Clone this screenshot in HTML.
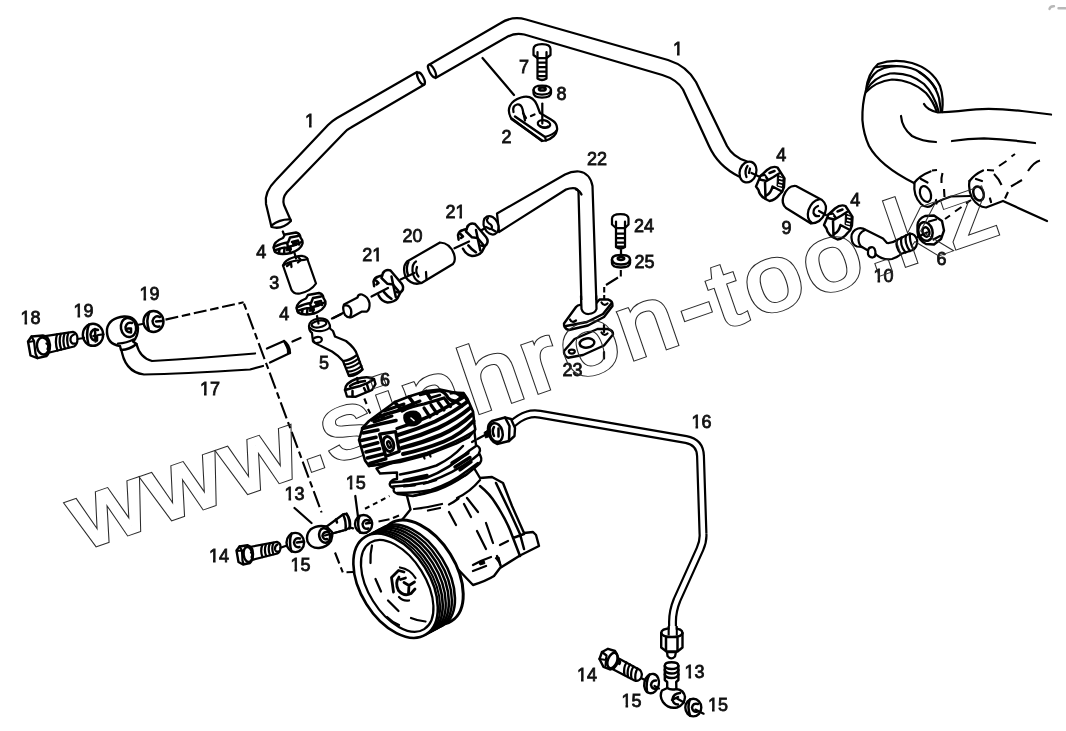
<!DOCTYPE html>
<html lang="en"><head><meta charset="utf-8"><title>Compressor piping diagram</title>
<style>
html,body{margin:0;padding:0;background:#fff;}
body{width:1066px;height:731px;overflow:hidden;font-family:"Liberation Sans",sans-serif;}
svg{display:block;}
.l{fill:none;stroke:#000;stroke-width:2.25;stroke-linecap:round;stroke-linejoin:round;}
.t{fill:none;stroke:#000;stroke-width:1.2;stroke-linecap:round;stroke-linejoin:round;}
.h{fill:none;stroke:#000;stroke-width:2.5;stroke-linecap:round;stroke-linejoin:round;}
.f{fill:#fff;stroke:#000;stroke-width:2.25;stroke-linecap:round;stroke-linejoin:round;}
.k{fill:#000;stroke:#000;stroke-width:1;stroke-linejoin:round;}
.d{fill:none;stroke:#000;stroke-width:1.6;stroke-linecap:butt;}
.n{font-family:"Liberation Sans",sans-serif;font-size:18px;fill:#111;stroke:#111;stroke-width:0.8;}
.w{font-family:"Liberation Sans",sans-serif;font-size:100px;fill:none;stroke:#3a3a3a;stroke-width:1;vector-effect:non-scaling-stroke;}
</style></head><body>
<svg width="1066" height="731" viewBox="0 0 1066 731">
<rect width="1066" height="731" fill="#fff"/>
<defs>
<g id="clampA">
<path class="f" d="M-10,-8 L-3.5,-14 Q2,-18.5 7,-16.5 L14,-5.5 L13.5,3 L11.5,8 L9,10.5 Q5,16 -1,17 Q-11,13 -12,6 L-14.5,2.5 Z" style="stroke-width:2.4"/>
<path class="h" d="M-10.5,-4.5 L-4,-3 L3,-7 L8.5,-10.5 M-5.5,-2 L-5,14.5 M2,2.5 Q0.5,9 -4,11.5 M2,2.5 L11.5,7.5 M-10,-8 L-6,-9 L-3,-5 M-1,-11 L4,-13"/>
<path class="k" d="M7,-9 L13.5,-5.5 L13,4 L6.5,2 Z"/>
<path d="M8.5,-6 L12,-5 M8.5,-2.5 L12,-1.5 M7.5,0.8 L11.5,1.8" style="fill:none;stroke:#fff;stroke-width:1.5"/>
<path d="M-8.5,-6.5 L-6,-7" style="fill:none;stroke:#fff;stroke-width:1.6;stroke-linecap:round"/>
</g>
<g id="clampB">
<path class="f" d="M-5.5,-13.5 Q-3,-17.5 2,-16 L13,-3 Q16,1 13.5,4.5 L12,6 Q9.5,12 6,14.5 Q-1,17.5 -7,13 L-10,8.7 L-4,0 L-7,-8 Z" style="stroke:none"/>
<path class="h" d="M-5.5,-13.5 Q-3,-17.5 2,-16 L13,-3 Q16,1 13.5,4.5 Q11,7 8,5.5"/>
<path class="h" d="M-7,-8.5 L-1,-2.7 L4.5,-2 L10,4.5 M-5.5,-13.5 L-7,-8.5"/>
<path class="h" d="M-10,8.7 Q-7,15 -1,16 Q6,15.5 9,11.7 L12,6"/>
<path class="h" d="M-4.7,5.4 Q-1,10 3,12.3"/>
<path class="h" d="M3,-10 Q5,0 7.3,10.5"/>
<path class="h" d="M-14.4,-0.3 L-15,-5 Q-14,-9 -10,-10 L-6.500,-11 M-12.5,-6 L-10,-3.500 L-12,-2"/>
</g>
<g id="clampC">
<path class="f" d="M-14.5,3 Q-14,-3 -5,-6.5 L-3,-10 L8,-12 Q12,-11 12.5,-7 Q15,-4 14.5,-1 Q13,5 3,8.5 Q-8,11 -13,7.5 Z" style="stroke-width:2.4"/>
<path class="h" d="M-14,2.5 Q-6,-1.500 0,-2 L2,-7 L10,-8.5 M-13.5,6 Q-6,3 0,2.5 Q8,1 13.5,-2.5 M-1,-2 L0,2.5 M4,-2.5 L10,-4 L11,0"/>
<path class="h" d="M-9,8.500 L-8.5,4.500 M-4,9 L-3.5,3.500 M2,8 L2,4"/>
<path class="k" d="M-2,3 L3,2 L3.5,5.5 L-1.5,6.5 Z M4.5,-1.500 L8.500,-2.500 L9,0.500 L5,1.500 Z"/>
</g>
</defs>
<g id="tubes">
<!-- tube 1 left -->
<path class="f" d="M417,72 L337,118 Q332,121 328,125 L276,180 Q264,192 266,204 L271.5,227 Q282,230 291,221 L284,205 Q282,198 287,192 L344,133 Q347,129.5 351,127.5 L424.5,84.5 Z"/>
<ellipse class="f" cx="421" cy="78.5" rx="2.6" ry="6.6" transform="rotate(-28 421 78.5)"/>
<path class="l" d="M271.5,225.5 Q280,219 290.5,219.5"/>
<!-- tube 1 right -->
<path class="f" d="M429.5,64.5 L500,23.5 Q512,15.5 526,19.5 L668,60 Q687,66 696,82 L727,146 Q733,157 746,161 Q755,164 753,173 Q750,182 739,176.5 Q718,166 709,146 L683,89.5 Q677,79.5 662.3,75 L524.3,34.5 Q514,32.5 506,37.5 L435.5,78 Z"/>
<ellipse class="f" cx="432" cy="71" rx="2.6" ry="7" transform="rotate(-28 432 71)"/>
<!-- tube 22 -->
<path class="f" d="M497,213.5 L565,174.5 Q572,171 579,171.5 Q590,173 592.5,186 L596.5,306 Q596,313 589,313.5 Q582,313 581.5,306 L578.5,192 Q578,188 573,188 Q569.5,188 566,189.5 L499,232 Z"/>
<path class="l" d="M576,189.5 Q580,190.5 581.5,194.5"/>
<!-- tube 17 -->
<path class="f" d="M121,347 Q124,372 144,374.5 Q180,374 250,369.5 L263,366 M270,362.5 L290,353 L284,341 L267,348.5 M255,353.5 Q200,358 152,361 Q140,358 136.5,344"/>
</g>
<g id="clip2">
<!-- leader -->
<path class="l" d="M482.5,58 L514,95"/>
<!-- bolt 7 -->
<path class="f" d="M537.5,57 L537.5,78.5 Q542,81.5 546.5,78.5 L546.5,57 Z"/>
<path class="l" d="M538,62.5 L546,62.5 M538,67 L546,67 M538,71.5 L546,71.5 M538,76 L546,76"/>
<path class="f" d="M533.5,49 Q533.5,44 542,44 Q550.5,44 550.5,49 L550.5,55 L546.5,58 L537.5,58 L533.5,55 Z"/>
<path class="l" d="M537.5,52 L537.5,58 M546.5,52 L546.5,58"/>
<!-- washer 8 -->
<path class="f" d="M533.5,90 Q533.5,85.5 542,85.5 Q551,85.5 551,90 L551,93 Q551,97.5 542,97.5 Q533.5,97.5 533.5,93 Z"/>
<path class="l" d="M533.5,90 Q534,94.5 542,94.5 Q550.5,94.5 551,90"/>
<ellipse class="h" cx="542.3" cy="89" rx="3.4" ry="1.6"/>
<!-- clip 2 -->
<path class="f" d="M511,118 C506,109 510,101 521,97.5 C529,95 534,98 537,105 L540,113 L551,119.5 Q558,123.5 557,130 Q556,137 546,140.5 L542,141 Z"/>
<path class="l" d="M513.5,112 Q512,106 517,104.5 Q521,104 522.5,109 L525,120.5"/>
<path class="h" d="M511.5,119 L542,140.5 M515,116.5 L545,137"/>
<path class="l" d="M545,137 Q554,134.5 557,130 M546,140.5 L545,137"/>
<ellipse class="l" cx="544" cy="124" rx="6.3" ry="3.7" transform="rotate(12 544 124)"/>
<path class="l" d="M540.5,126.5 Q544,128.5 548,126.5"/>
<path class="l" d="M523,113 L526,118 M531,116 L534.5,114.5"/>
<path class="l" d="M542.3,103.5 L542.3,123.5"/>
</g>
<g id="upper_right">
<!-- big elbow pipe -->
<path class="l" d="M942,112 Q944,98 940,86 Q932,69 912,63 Q894,58.5 878,64 Q868,73 866,90 Q862,104 862.4,120 Q863.5,134 869,146 Q880,166 914,183"/>
<path class="l" d="M867,86 Q872,72 884,68 Q900,63.5 916,70 Q934,80 939,98 L941,111"/>
<path class="l" d="M866.5,90 Q874,77 890,73.5 Q910,72 924,84 Q934,94 938.5,111"/>
<path class="l" d="M866,92 Q876,81.5 892,79.5 Q912,80 926,93 Q933,101 936.5,111"/>
<path class="l" d="M877,67 Q886,65.5 897,66 M919,72 Q930,79 936,89"/>
<path class="l" d="M924,104 Q927,110 938,112.5 Q960,111 976,109.3 Q996,108 1022,111 L1051,114.5"/>
<path class="l" d="M901,116 Q902,128 912,136 Q922,141.5 936,142 M952,141 Q968,138.5 984,138.3 Q1008,139.5 1035,143"/>
<!-- ports -->
<path class="l" d="M914,183 Q920,175.5 930.5,171.5 M921,179 L927.5,182.5"/>
<path class="l" d="M914.5,183 Q913,196 921,204 Q926,208.5 931,206 Q936,201.5 951,196.5 L970,196"/>
<ellipse class="l" cx="925.5" cy="194" rx="5.2" ry="8.2" transform="rotate(-20 925.5 194)"/>
<path class="l" d="M936,200 L936.5,203.5"/>
<path class="d" d="M932,170.5 L937,170 M942.5,173 Q941,178 941.5,183 M944,189 L944.5,197" style="stroke-width:2.1"/>
<path class="l" d="M969.5,181 Q975,174 983,170.5 M976,179 L982,181"/>
<path class="l" d="M969.5,181 Q968,190 972,198 Q978,207 986,207.5 Q990,206 1003,201 L1047,221"/>
<ellipse class="h" cx="978.5" cy="193.5" rx="5" ry="7.2" transform="rotate(-20 978.5 193.5)"/>
<path class="l" d="M990,198.5 L991,202"/>
<path class="d" d="M987,170 L994,170.5 M994,174 Q999,179 1001.5,185 M1008,192 L1005,198.5 M999,166 L1006.5,161 M1011.5,156.5 L1015,154 M1011,186.5 L1022,180 M1028,171 Q1034,162 1040,160.5" style="stroke-width:2.1"/>
<path class="d" d="M945,219 L950,215.5 M955,211.5 L961.5,207 M966,203.5 L971,200" style="stroke-width:2.1"/>
<!-- tube1 end -->
<ellipse class="f" cx="748" cy="172" rx="8.3" ry="10.6" transform="rotate(18 748 172)"/>
<path class="l" d="M747.5,166 Q744,171 746.5,177 M750,168.5 L749,173"/>
<path class="l" d="M751.5,173 L760,177"/>
<use href="#clampA" transform="translate(770.5,184)"/>
<!-- hose 9 -->
<path class="f" d="M796,186 L822,200 Q828,205 825,213 Q821,223 811,223.5 L786,208 Q781,203.5 783.5,196 Q788,185 796,186 Z"/>
<path class="l" d="M812,223 Q806,219 808.5,210 Q812,200.5 819,199.5"/>
<path class="l" d="M818,206 Q813,208 813.5,213 Q815,217 819,216"/>
<path class="l" d="M819,211 L826,215"/>
<use href="#clampA" transform="translate(838.5,222.5)"/>
<!-- fitting 10 -->
<path class="f" d="M858,228.5 Q851,231 851.5,238 Q852,245 857,246.5 L862,247 L868,250.5 L868,254 Q869,257.5 872.5,257.5 Q875.5,257 875.5,254 Q882,260.5 892,259 Q898,257 902,253.5 L913,250 Q918,246 917,239.5 Q915,233.5 910,233.5 L897,240 Q892,243.5 887,243 L883,238.5 L866,230 Q862,227.5 858,228.5 Z"/>
<path class="l" d="M865,230 Q858,233 858.5,240 Q859,245 862,247"/>
<path class="l" d="M868,250.5 Q868.5,247 872,247 Q875.5,247.5 875.5,254"/>
<path class="l" d="M897,240 Q895,247 901,254 M901.5,237.5 Q899.5,245 905.5,252.5 M906,235.5 Q904,243 910,251 M910,233.5 Q909,241 913.5,249.5"/>
<!-- nut 6 -->
<path class="f" d="M917.5,225 Q918,219 925,216 L934,215.5 L942,221 L944,230.5 L941,239 L934,244.5 L926,244 Q918,240 917.5,232 Z" style="stroke-width:2.4"/>
<ellipse class="h" cx="925.5" cy="231.5" rx="7" ry="9.5" transform="rotate(-15 925.5 231.5)"/>
<ellipse class="h" cx="926" cy="232" rx="3.3" ry="4.8" transform="rotate(-15 926 232)"/>
<path class="l" d="M929,221.5 L936,219.5 M933.5,239.5 L940,236 M917.5,237 L927,232.5"/>
<path d="M1049.5,9 Q1050,6 1054,6.2 M1058.5,8.3 L1065.5,8.3" style="fill:none;stroke:#b8b8b8;stroke-width:2.4;stroke-linecap:round"/>
</g>
<g id="middle">
<!-- tube 22 end -->
<ellipse class="f" cx="491" cy="225.3" rx="7" ry="9.6" transform="rotate(-25 491 225.3)"/>
<path class="l" d="M488,218 Q485.5,220.5 489,223.5 Q493,225 491.5,229 L495.5,231.5 M486,227 L490,229"/>
<path class="l" d="M484.5,228.5 L479,231.5"/>
<use href="#clampB" transform="translate(473,240)"/>
<path class="l" d="M454.5,248.3 L469,241.5"/>
<!-- hose 20 -->
<path class="f" d="M407,261.5 L440,242.5 Q450,243 454,254 Q456,261 453,264 L421.5,283 Q412,286 405.5,277 Q402,267 407,261.5 Z"/>
<path class="l" d="M421,283 Q413,279.5 412.5,271 Q412,264 416,261.5"/>
<path class="l" d="M408.5,262 Q405.5,268 408,275 M417,267 Q415,272 418.5,276.5 M426,272 L426.5,279.5"/>
<path class="l" d="M400.5,279.5 L414.5,273"/>
<use href="#clampB" transform="translate(388.5,286.5)"/>
<path class="l" d="M371.5,296.5 L388,288"/>
<!-- connector -->
<path class="f" d="M344,304.5 Q342,309 345,315 Q348,318.5 352,317 L362,311.5 L367,311.5 Q370,309 369.5,303 Q368,296.5 362,294.5 Q358,294 357.5,297.5 Z"/>
<path class="l" d="M345,305.5 Q349,304.5 351,309.5 Q352,314 350,317"/>
<path class="l" d="M333.5,318 L343,313"/>
<!-- bolt 24 -->
<path class="f" d="M616,227 L616,247 Q620.5,250 625,247 L625,227 Z"/>
<path class="l" d="M616.5,233.5 L624.5,233.5 M616.5,238 L624.5,238 M616.5,242.5 L624.5,242.5 M616.5,246.5 L624.5,246.5"/>
<path class="f" d="M612,218.5 Q612,214 620.5,214 Q628.5,214 628.5,218.5 L628.5,224.5 L625,228 L616,228 L612,224.5 Z"/>
<path class="l" d="M616,221.5 L616,227.5 M625,221.5 L625,227.5"/>
<!-- washer 25 -->
<path class="f" d="M612,259.5 Q612,255 621,255 Q630,255 630,259.5 L630,263 Q630,267.5 621,267.5 Q612,267.5 612,263 Z" style="stroke-width:2.4"/>
<path class="h" d="M612,260 Q613,264.5 621,264.5 Q629,264.5 630,260"/>
<ellipse class="h" cx="621" cy="258.5" rx="3.2" ry="1.5"/>
<path class="l" d="M621,250 L621,256"/>
<!-- dashes -->
<path class="d" d="M620.8,270 L620.8,276.5 M618,277.5 L606,285" style="stroke-width:2.1"/>
<path class="d" d="M604.2,287 L604.2,299.5" style="stroke-width:2.1;stroke-dasharray:5.5 2.5"/>
<!-- flange on tube 22 -->
<path class="f" d="M564,323.5 L576,307 Q578,304.5 581,305 L596,303.5 L599.5,299.5 L608,299.5 Q613,301 612.5,306 L604,317 L588,325.5 L569,330 Q563.5,328.5 564,323.5 Z" style="stroke-width:2.4"/>
<path class="h" d="M566,326 L587,322 L603,314 L611,304"/>
<path class="l" d="M570,319.5 Q572,323.5 576,320.5 M601.5,302.5 Q604,306.5 607.5,303.5"/>
<path class="f" d="M581,300 L581,310 Q583,314 588.5,314 Q594.5,313.5 596.5,309 L596.3,300 Z" style="stroke:none"/>
<path class="l" d="M581,296 L581.5,309 Q583,314 588.5,314 Q595,313.5 596.5,309 L596.2,296"/>
<!-- gasket 23 -->
<path class="f" d="M564,351 L574.5,339 L597.5,329 L607.5,329 Q613.5,330.5 613,334.5 L604,345.5 L583,355 L568,357.7 Q563.5,355.5 564,351 Z" style="stroke-width:2.4"/>
<ellipse class="h" cx="587" cy="343" rx="7.4" ry="4.6" transform="rotate(-8 587 343)"/>
<ellipse class="l" cx="571.8" cy="351.6" rx="3" ry="2"/>
<path class="l" d="M601.5,332.5 Q604,336.5 607.5,333.5"/>
<path class="l" d="M604,325 L604,332 M604,352 L604,358.5"/>
</g>
<g id="left">
<!-- long dash-dot line from washer 19 to compressor -->
<path class="d" d="M165.5,319.6 L243.6,302.3" style="stroke-width:2.1;stroke-dasharray:13 3.7 8.6 3.7"/>
<path class="d" d="M243.6,302.6 L321.6,512.5" style="stroke-width:2.1;stroke-dasharray:17 4 6.6 4;stroke-dashoffset:20"/>
<path class="d" d="M335,552.5 L339.3,563.5 M340.8,567.3 L342.8,572.3 M346.5,572.2 L353.5,572" style="stroke-width:2.1"/>
<!-- center lines -->
<path class="l" d="M282.8,231.5 L287,242 M332,318.5 L341,314.3 M292.5,341.5 L300.5,338"/>
<use href="#clampC" transform="translate(288,244.5)"/>
<!-- hose 3 -->
<path class="f" d="M283,265.5 L291.5,290 Q294,294.5 300,293.5 Q311,291 316,283.5 L307,258 Q304,254.5 296,256.5 Q284,260 283,265.5 Z"/>
<path class="l" d="M283,265.5 Q290,261 298,260.5 Q305,260 307.5,259"/>
<path class="l" d="M287,266 L291,263 L291.5,267 M298,257 L301,260 L298,262.5"/>
<path class="l" d="M294.5,253 L296,258.5"/>
<use href="#clampC" transform="translate(311,305)"/>
<!-- fitting 5 -->
<path class="f" d="M309,326 Q309,331 312,333 L312.5,338 Q313,343.5 321,346 L332,351.5 Q339,356 343,361 L349,376 Q356,376.5 362.5,369.5 L357,354.5 Q355,348 346,341 L335,336.5 L333,331 L330,328.5 Q330.5,325 328.5,322 Q326,318 318,318.5 Q309.5,320 309,326 Z"/>
<ellipse class="l" cx="319" cy="324" rx="7.5" ry="3.3" transform="rotate(-10 319 324)"/>
<path class="l" d="M309.5,327.5 Q314,332 322,331 Q328,330 330,327"/>
<ellipse class="l" cx="317.3" cy="340" rx="4.6" ry="3" transform="rotate(-10 317.3 340)"/>
<path class="l" d="M343,361 Q350,360.5 357,355 M344.5,364.5 Q352,364 358.5,358.5 M346,368 Q353.5,367.5 360,362 M347.5,371.5 Q355,371.5 361.5,366 M349,375 Q356,374.5 362.5,369.5"/>
<path class="l" d="M317,316 L318.5,323.5"/>
<!-- nut 6 -->
<path class="f" d="M345,390 Q345,383 356,379 Q368,375.5 374,379 L375.5,384 L372,390 L356,396.7 L347,396.5 Z" style="stroke-width:2.4"/>
<path class="h" d="M345,390 Q352,388 360,386 Q369,383 374,379 M350,386 Q356,382 365,381 M352.5,391 L352.5,396.5 M367,384.5 L369,391 M364,388 L366,392"/>
<path class="l" d="M357,378 L358,383"/>
<path class="d" d="M364.3,398.5 L366.6,404 M368,409 L370.3,413.5" style="stroke-width:2.1"/>
<!-- tube 17 end cap -->
<path class="l" d="M284,341 Q290,345 290,353"/>
<path class="k" d="M287,345 L290,353 L287.5,353.5 Z"/>
<!-- banjo 17 head -->
<path class="f" d="M120,346 Q106,344 107,329 Q109,318 124,316.5 Q136,316 138,328 Q138,337 133,341.5 L136.5,344 Q130,349.5 121,350 Z" style="stroke-width:2.4"/>
<ellipse class="h" cx="128.5" cy="327.5" rx="7.6" ry="9.6" transform="rotate(-10 128.5 327.5)"/>
<path class="h" d="M132,323 Q127,321.5 125.5,327 Q125.5,332.5 131,332.5 L131,328.5 L128,328.5"/>
<path class="l" d="M118,343.5 Q127,343 133.5,339.5"/>
<path class="l" d="M137,325 L145,323.5"/>
<!-- washer 19 right -->
<ellipse class="f" cx="153.5" cy="321.5" rx="10" ry="10.5" style="stroke-width:2.4"/>
<path class="h" d="M149.5,312 Q145.5,320 149,330.5 M160,317 Q154.5,314.5 152.5,321 Q153,327.5 159.5,326.5 M156,321.5 L162,321"/>
<!-- washer 19 left -->
<ellipse class="f" cx="93" cy="334.8" rx="10.2" ry="11" style="stroke-width:2.4"/>
<path class="h" d="M89,324.5 Q85.5,333 88.5,344.5 M98,330 Q92,327.5 90.5,334.5 Q91,341 97,340.5 L97,336 L93.5,336 M95,329 L95.5,341.5"/>
<path class="l" d="M98,335 L103.5,334.3"/>
<!-- bolt 18 -->
<path class="f" d="M43.5,336.3 L73,331.8 Q77.5,333 77.5,339 Q77.5,344.5 74,346.5 L47.5,353 Z"/>
<path class="l" d="M57,334.5 Q54.5,342 57.5,350.5 M60.8,334 Q58.3,341.5 61.3,349.5 M64.6,333.3 Q62,341 65,348.5 M68.3,332.8 Q65.8,340.5 68.8,347.5"/>
<path class="l" d="M74,334.5 Q70,336 70.5,340.5 Q71.5,344.5 75,343.5"/>
<path class="l" d="M77.5,339 L84,338"/>
<path class="f" d="M28,341.5 L31.5,336.5 L43,335.5 Q49,336 50,345 Q50,353 46.5,356 L37.5,358.2 L30.5,355.5 Z" style="stroke-width:2.4"/>
<ellipse class="h" cx="43" cy="346" rx="6" ry="8.6" transform="rotate(-8 43 346)"/>
<path class="l" d="M31.5,336.5 L34,341 L35.5,353.5 L37.5,358 M28.5,342 L34,341 M46.5,343.5 Q49.5,345 47.5,349"/>
</g>
<g id="compressor">
<!-- crankcase -->
<path class="f" d="M406.5,494 L410.5,509.5 L404,517.5 L400,522 L430,540 L473,585 Q486,581 494,576 L500,568 L520,555.5 L539,546 L536,535 L533,532 L524,533 L512,506 L503,483 L492,477 L480,478 L474,468 Z" style="stroke-width:2.4"/>
<path class="l" d="M414,509 Q428,507.5 442,504 M428,510.5 L440,508 M449,504.5 Q454,502 458.5,498.5 M457,498 Q470,492 480,480"/>
<path class="h" d="M480,486 Q490,494 496,504 Q505,518 510,530 L520,556 M496,483 L509,510 L520,534 M513,538 L524,534 M520,534 L524,549"/>
<path class="l" d="M449,512 L456,525 M464,504 L471,517 M467,498 L478,512 M477,531 L486,549 M486,523 L493,543 M500,545 L508,541 M473,565 Q482,560 491,557 M473,571 L486,566 M497,556 L501,567"/>
<path class="k" d="M479,562 L484,560.5 L485,563.5 L480,565 Z M495,558 L499,557 L501,565 Z"/>
<!-- cylinder rings -->
<path class="f" d="M380,473.5 L376.5,468.5 L414,455 L456,438 L474,428 L476,445 Q482,448 479,453 L480.5,456 Q483,461 478,465 L466,475 Q440,490 413,496 L398,494 Q392,492 394,488.5 Q388,486 390.5,482 Q393,479 397,479 L397,472.5 Z" style="stroke-width:2.4"/>
<path class="h" d="M400,474.5 Q420,471 436.5,465.5 Q452,458 463,446"/>
<path class="h" d="M391,482.5 Q410,481.5 426,478 Q450,469 469.5,450.5 L476,446"/>
<path class="h" d="M393,486.5 Q412,485.5 428.5,482 Q454,473 473.5,458.5 L479,454"/>
<path class="h" d="M397,493 Q416,493 431,490 Q452,483 467,471 L478,463"/>
<path class="l" d="M413.5,495.8 Q426,494 436.5,490.5 Q452,484.5 465.5,475"/>
<path d="M404,480.5 L427,475.5 M452,463 L468,453 M455,467 L470,457.5 M460,470 L471,462" style="fill:none;stroke:#000;stroke-width:3.4;stroke-linecap:round"/>
<path d="M404,486 L415,485 M424,483.5 L436,480" style="fill:none;stroke:#000;stroke-width:2.8;stroke-linecap:round"/>
<!-- pulley -->
<ellipse class="f" cx="421.0" cy="572.3" rx="57.5" ry="34.5" transform="rotate(58 421.0 572.3)" style="stroke-width:3"/>
<g style="fill:none;stroke:#000">
<ellipse cx="412.9" cy="576.6" rx="57.3" ry="34.3" transform="rotate(58 412.9 576.6)" stroke-width="2.6"/>
<ellipse cx="409.8" cy="578.2" rx="57.3" ry="34.3" transform="rotate(58 409.8 578.2)" stroke-width="2.4"/>
<ellipse cx="406.8" cy="579.8" rx="57.3" ry="34.3" transform="rotate(58 406.8 579.8)" stroke-width="2.6"/>
<ellipse cx="403.7" cy="581.4" rx="57.3" ry="34.3" transform="rotate(58 403.7 581.4)" stroke-width="2.4"/>
<ellipse cx="400.7" cy="583.0" rx="57.3" ry="34.3" transform="rotate(58 400.7 583.0)" stroke-width="2.6"/>
<ellipse cx="398.1" cy="584.4" rx="57.3" ry="34.3" transform="rotate(58 398.1 584.4)" stroke-width="2.0"/>
</g>
<ellipse class="f" cx="395.6" cy="585.7" rx="57.5" ry="34.5" transform="rotate(58 395.6 585.7)" style="stroke-width:2.6"/>
<ellipse class="l" cx="397.2" cy="585.9" rx="51" ry="28.5" transform="rotate(58 397.2 585.9)"/>
<path class="l" d="M372,545.5 Q370,554 370.5,563 M375.5,579 L381,591.5 M388,600.5 L398.5,611 M411,618 Q418,621 425.5,621.5 M387,617 Q392,622 399,625"/>
<!-- hub -->
<path class="f" d="M391.5,577.5 L398.5,570.5 L411,574 L416.5,586 L413,595 L402.5,598.5 L393.5,593 Z" style="stroke:none"/>
<path d="M393.5,592 L391.5,577.5 L398.5,570.5 L404,572 M399,577 Q394.500,583 398.500,590.500 Q404,597 411,593.500 L415,589 M404,582.500 L409,585.500 L414.500,582 M409,585.500 L408.500,593 M400.500,579.500 L405.500,578" style="fill:none;stroke:#000;stroke-width:2.8;stroke-linecap:round;stroke-linejoin:round"/>
<path class="l" d="M400,567.500 Q410,569 415.500,578 M399,597 Q403,601.500 409,600.500"/>
</g>
<g id="bottom">
<!-- pipe 16 -->
<path d="M511,425 Q520,417 527,415 Q533,413 540,414.2 L686,439.5 Q700,442 700.5,456 L703,534 Q703.5,541 700,549 L677,600 Q672.5,611 672.5,622 L672.6,634" style="fill:none;stroke:#000;stroke-width:9;stroke-linejoin:round"/>
<path d="M511,425 Q520,417 527,415 Q533,413 540,414.2 L686,439.5 Q700,442 700.5,456 L703,534 Q703.5,541 700,549 L677,600 Q672.5,611 672.5,622 L672.6,634" style="fill:none;stroke:#fff;stroke-width:4.6;stroke-linejoin:round"/>
<!-- nut at compressor end -->
<path class="f" d="M488,430 Q487.5,424 492,421 L505,417.5 L511,419 L515,428 L514.5,436 L509,441 L497,444 Q489.5,441 488,430 Z" style="stroke-width:2.4"/>
<ellipse class="h" cx="496" cy="432.5" rx="6.5" ry="9.5" transform="rotate(-15 496 432.5)"/>
<path class="h" d="M505,417.5 L509.5,426 L509,441 M494,427 Q491.5,431 494,436 M498.5,428.5 L498.5,436.5"/>
<path class="k" d="M484,432.5 L490,428.5 L491,436 L485.5,438 Z"/>
<path class="l" d="M484,435.5 L477.5,439 M475.5,440 L472,442"/>
<!-- nut bottom -->
<path class="f" d="M661.2,633 Q661.2,628.2 672,628.2 Q682.5,628.2 682.5,633 L682.5,647.5 L677.5,651.5 L666.5,651.5 L661.2,647.5 Z" style="stroke-width:2.4"/>
<path class="h" d="M661.2,633 Q662,637 672,637 Q682,637 682.5,633 M666,637 L666,651 M677.5,637 L677.5,651"/>
<path d="M668.7,626 L668.7,635.5 M676.7,626 L676.7,635.5" style="fill:none;stroke:#000;stroke-width:2.2"/>
<path d="M672.7,626 L672.7,635" style="fill:none;stroke:#fff;stroke-width:5.6"/>
<path class="f" d="M667,652 L667.5,656 Q671,660.5 675,656.5 L676,652 Z"/>
<!-- fitting 13 bottom right -->
<path class="f" d="M664.8,665.5 Q665,662.3 671.5,662.3 Q678.2,662.3 678.4,665.5 L678.4,680 L676.2,682 L676.4,689 Q684,690 685,697 Q684.5,705 677,707.5 Q668,709 663,702 Q659,696 662,690.5 L667.2,688 L667.2,682 L664.8,680 Z" style="stroke-width:2.4"/>
<path class="h" d="M664.8,666 Q666,669 671.5,669 Q677.5,669 678.4,666 M664.8,670 Q666,673.5 671.5,673.5 Q677.5,673.5 678.4,670 M664.8,674.5 Q666,678 671.5,678 Q677.5,678 678.4,674.5 M667.2,688 Q671,690.5 676.4,689"/>
<path class="h" d="M680,693 Q673.5,693.5 672.5,699 Q673,704.5 678,704.5 M672,700 L678,697"/>
<path class="l" d="M677,698.5 L684,702.5"/>
<!-- washer 15 BR right -->
<ellipse class="f" cx="693.3" cy="707.6" rx="8" ry="8.8" style="stroke-width:2.4"/>
<path class="h" d="M690,699.5 Q687,706 690,715.5 M698,704 Q693,702.5 692,707.5 Q692.5,712.5 697.5,711.5"/>
<path class="l" d="M695.4,709.6 L703.6,713.7"/>
<!-- washer 15 BR left -->
<ellipse class="f" cx="651.6" cy="683.6" rx="7.3" ry="9.8" transform="rotate(12 651.6 683.6)" style="stroke-width:2.4"/>
<path class="h" d="M649.5,674.5 Q645.5,682 647,692 M656,680.5 Q651.5,680.5 651,685 Q652,689.5 656,688.5"/>
<path class="l" d="M654.5,686 L659,688.5 M641,678 L645,680"/>
<!-- bolt 14 BR -->
<path class="f" d="M616,657 L640,670 Q643,673.5 641,678 Q638.5,682 634.5,680.5 L610.5,668 Z"/>
<path class="l" d="M626.5,662.5 Q623,668 624.5,675 M630,664.5 Q626.5,670 628,677 M633.5,666.5 Q630,672 631.5,678.5 M637.5,668.5 Q634.5,673.5 635.5,680"/>
<path class="f" d="M599.5,659 L602,652 L608,648.8 L615,651 Q619,656 617.5,663 Q615,669 610,669.5 L603.5,667 Z" style="stroke-width:2.4"/>
<ellipse class="h" cx="612.5" cy="660.5" rx="4.6" ry="8" transform="rotate(22 612.5 660.5)"/>
<path class="l" d="M602,652 L606.5,655.5 L605.5,666 M599.5,659 L606,660 M617.5,663 L619.5,664 Q621,661.5 619,660.5"/>
<!-- left: bolt 14 -->
<path class="f" d="M249.5,547 L277,541.8 Q281,543 280.5,548 Q280,552.5 277.5,553.5 L252.5,559.8 Z"/>
<path class="l" d="M262.3,545 Q260,551 262.5,557 M266,544.3 Q263.7,550.3 266.2,556 M269.8,543.5 Q267.5,549.5 270,555 M273.5,542.8 Q271,548.5 273.5,554.2"/>
<path class="l" d="M277.5,544.5 Q274.5,546 275,549.5 Q276,552.5 278.5,551.5 M280.5,547.8 L285.5,546"/>
<path class="f" d="M236.5,550.5 L239.5,546.5 L247.5,545.2 Q253,547 253,554 Q253,560 250,563 L243,564.5 L238.5,562 Z" style="stroke-width:2.4"/>
<ellipse class="h" cx="248" cy="554.5" rx="4.4" ry="7.6" transform="rotate(-8 248 554.5)"/>
<path class="l" d="M239.5,546.5 L242,550.5 L242.5,560.5 L243.5,564 M237,551 L242,550.5 M251,552.5 Q253.5,554 251.5,557"/>
<!-- washer 15 left -->
<ellipse class="f" cx="295.3" cy="542.5" rx="8.8" ry="9.6" style="stroke-width:2.4"/>
<path class="h" d="M291.5,533.5 Q288.5,541.5 291.5,551.5 M300,538.5 Q295,537 294,542.5 Q294.5,548 299.5,547 M297,542.5 L304,541.5"/>
<!-- banjo 13 left -->
<path class="l" d="M294.5,508 L311.5,523"/>
<path class="f" d="M326,527 L343,514.5 Q346,513 348,516 Q351,521 350,527.5 L345.5,530 L332.5,533.5 Z"/>
<path class="h" d="M343,514.5 Q346.5,521 345.5,530 M346.5,513.5 Q350.5,520 349.5,528.5 M336,519.5 L337,522.5"/>
<path class="f" d="M326.5,526.5 Q317,524.5 310.5,529.5 Q305.5,535 307.5,541.5 Q311,548.5 319,548 Q327,547 331,541 Q333,536 332,532 Z" style="stroke-width:2.4"/>
<ellipse class="h" cx="324.6" cy="535.5" rx="5.4" ry="7.4" transform="rotate(-12 324.6 535.5)"/>
<path class="h" d="M327.5,532 Q323,531.5 322.5,536 Q323.5,540 327,539"/>
<path class="l" d="M325,535.5 L343,530.5 M350,527.5 L353,528.3"/>
<!-- washer 15 near compressor -->
<path class="l" d="M355.3,496 L358.3,519"/>
<ellipse class="f" cx="363.6" cy="524" rx="8.6" ry="9" style="stroke-width:2.4"/>
<path class="h" d="M359.5,516 Q356.5,523.5 360,532.5 M369,520.5 Q364,518.5 362.5,524 Q363,529.5 368.5,528.5 M366,523.5 L372,522.5"/>
<!-- short dashes to the compressor -->
<path class="d" d="M365,508.8 L389.5,496" style="stroke-width:2.1;stroke-dasharray:5 4"/>
<path class="d" d="M378.5,521.5 L389.5,519.3 M393,518 L399,515.5" style="stroke-width:2.1"/>
</g>
<g id="labels" opacity="0.999">
<text class="n" x="305.0" y="126.5">1</text>
<path d="M305.2,124.5h3.8v3.6h-3.8zM311.6,124.5h3.5v3.6h-3.5z" fill="#fff"/>
<text class="n" x="673.0" y="55.1">1</text>
<path d="M673.2,53.1h3.8v3.6h-3.8zM679.6,53.1h3.5v3.6h-3.5z" fill="#fff"/>
<text class="n" x="519.0" y="73.0">7</text>
<text class="n" x="556.5" y="100.0">8</text>
<text class="n" x="501.5" y="142.5">2</text>
<text class="n" x="587.0" y="165.0">22</text>
<text class="n" x="634.0" y="232.0">24</text>
<text class="n" x="634.5" y="268.0">25</text>
<text class="n" x="776.2" y="161.2">4</text>
<text class="n" x="850.2" y="205.5">4</text>
<text class="n" x="781.5" y="234.0">9</text>
<text class="n" x="873.5" y="281.5">10</text>
<path d="M873.7,279.5h3.8v3.6h-3.8zM880.1,279.5h3.5v3.6h-3.5z" fill="#fff"/>
<text class="n" x="936.5" y="265.0">6</text>
<text class="n" x="445.4" y="217.8">21</text>
<path d="M455.6,215.8h3.8v3.6h-3.8zM462.0,215.8h3.5v3.6h-3.5z" fill="#fff"/>
<text class="n" x="402.5" y="241.8">20</text>
<text class="n" x="362.3" y="260.7">21</text>
<path d="M372.5,258.7h3.8v3.6h-3.8zM378.9,258.7h3.5v3.6h-3.5z" fill="#fff"/>
<text class="n" x="256.3" y="257.7">4</text>
<text class="n" x="269.2" y="288.7">3</text>
<text class="n" x="279.3" y="319.7">4</text>
<text class="n" x="139.5" y="300.0">19</text>
<path d="M139.7,298.0h3.8v3.6h-3.8zM146.1,298.0h3.5v3.6h-3.5z" fill="#fff"/>
<text class="n" x="73.5" y="317.0">19</text>
<path d="M73.7,315.0h3.8v3.6h-3.8zM80.1,315.0h3.5v3.6h-3.5z" fill="#fff"/>
<text class="n" x="20.5" y="323.8">18</text>
<path d="M20.7,321.8h3.8v3.6h-3.8zM27.1,321.8h3.5v3.6h-3.5z" fill="#fff"/>
<text class="n" x="319.0" y="368.7">5</text>
<text class="n" x="380.0" y="385.7">6</text>
<text class="n" x="200.0" y="394.7">17</text>
<path d="M200.2,392.7h3.8v3.6h-3.8zM206.6,392.7h3.5v3.6h-3.5z" fill="#fff"/>
<text class="n" x="562.5" y="375.8">23</text>
<text class="n" x="691.5" y="427.5">16</text>
<path d="M691.7,425.5h3.8v3.6h-3.8zM698.1,425.5h3.5v3.6h-3.5z" fill="#fff"/>
<text class="n" x="345.8" y="488.7">15</text>
<path d="M346.0,486.7h3.8v3.6h-3.8zM352.4,486.7h3.5v3.6h-3.5z" fill="#fff"/>
<text class="n" x="284.5" y="499.8">13</text>
<path d="M284.7,497.8h3.8v3.6h-3.8zM291.1,497.8h3.5v3.6h-3.5z" fill="#fff"/>
<text class="n" x="209.0" y="561.8">14</text>
<path d="M209.2,559.8h3.8v3.6h-3.8zM215.6,559.8h3.5v3.6h-3.5z" fill="#fff"/>
<text class="n" x="290.5" y="570.7">15</text>
<path d="M290.7,568.7h3.8v3.6h-3.8zM297.1,568.7h3.5v3.6h-3.5z" fill="#fff"/>
<text class="n" x="577.0" y="680.7">14</text>
<path d="M577.2,678.7h3.8v3.6h-3.8zM583.6,678.7h3.5v3.6h-3.5z" fill="#fff"/>
<text class="n" x="684.5" y="678.0">13</text>
<path d="M684.7,676.0h3.8v3.6h-3.8zM691.1,676.0h3.5v3.6h-3.5z" fill="#fff"/>
<text class="n" x="621.5" y="706.5">15</text>
<path d="M621.7,704.5h3.8v3.6h-3.8zM628.1,704.5h3.5v3.6h-3.5z" fill="#fff"/>
<text class="n" x="708.0" y="710.7">15</text>
<path d="M708.2,708.7h3.8v3.6h-3.8zM714.6,708.7h3.5v3.6h-3.5z" fill="#fff"/>
</g>
<g id="watermark">
<mask id="wmm" maskUnits="userSpaceOnUse" x="0" y="0" width="1066" height="731">
<rect width="1066" height="731" fill="#fff"/>
<text x="0.8 72.1 143.8 209.8 236.7 288.5 313.9 370.1 425.7 462.0 516.2 572.9 604.5 635.7 691.3 746.0 772.9 823.0" y="0" transform="translate(82.0,549.8) rotate(-19.05) scale(1.12,1)" style="font-family:'Liberation Sans',sans-serif;font-size:92px;stroke-linejoin:miter;vector-effect:non-scaling-stroke;fill:#000;stroke:#000;stroke-width:3">www.sinhron-too.kz</text>
</mask>
<g mask="url(#wmm)">
<text x="0.8 72.1 143.8 209.8 236.7 288.5 313.9 370.1 425.7 462.0 516.2 572.9 604.5 635.7 691.3 746.0 772.9 823.0" y="0" transform="translate(82.0,549.8) rotate(-19.05) scale(1.12,1)" style="font-family:'Liberation Sans',sans-serif;font-size:92px;stroke-linejoin:miter;vector-effect:non-scaling-stroke;fill:none;stroke:#2a2a2a;stroke-width:5">www.sinhron-too.kz</text>
</g>
</g>
<g id="head">
<!-- cylinder head (drawn above watermark) -->
<path class="f" d="M369,466 L365,460.5 L359,440 L362.5,428 L369,421 L378.5,414 L395,402 L409,396.5 L426.5,391 L440,389.5 L454,392.5 L463.5,393 L467.5,399 L473,411.5 L474.5,425 L475.3,429.5 L469,437 L456,443.5 L426.5,455 L400,462 Z" style="stroke-width:2.6"/>
<g style="fill:none;stroke:#000;stroke-linecap:round;stroke-linejoin:round">
<path d="M397,428.5 Q416,422.5 432,415 Q450,405.5 464.5,396.5" stroke-width="3.4"/>
<path d="M398,435 Q418,429 435,421.5 Q454,412 467,402" stroke-width="4"/>
<path d="M400,441.5 Q420,436 438,428 Q457,419 470,408" stroke-width="4.2"/>
<path d="M401.5,448 Q422,443 441,435 Q459,427 472,414.5" stroke-width="4.2"/>
<path d="M403,454 Q424,449.5 444,441.5 Q461,434.5 473.5,421" stroke-width="4"/>
<path d="M361.2,440.4 L376,437.3 M363.6,446.5 L377.8,442.8 M366,452 L379.6,448.8 M367.3,458 L383.3,453.9 M369.8,463.5 L385.8,458.8" stroke-width="3.6"/>
<path d="M369,466 Q400,461 427,453 Q455,443 474.5,431" stroke-width="2.6"/>
<!-- port boss -->
<path d="M379.6,434.2 L395.6,431.7 L399.3,451.4 L385.8,456.3 Z" stroke-width="3.2" fill="#fff"/>
<ellipse cx="388.5" cy="444" rx="5" ry="7.6" transform="rotate(-18 388.5 444)" stroke-width="3"/>
<ellipse cx="389" cy="444.5" rx="1.6" ry="3.4" transform="rotate(-18 389 444.5)" stroke-width="2.4"/>
<!-- top details -->
<path d="M362.5,428.5 Q372,426 380,424 L396,420.5 M363,433 L378,430 M372,420 Q384,414 397,411 L412,406 M380,414.5 L384,418 M395,402.5 L400,408.5 M409,397 L413.5,403 M426,391.5 L430.5,398.5" stroke-width="3.6"/>
<path d="M374,422 L392,416 M384,411 L404,404 M400,409 L420,401" stroke-width="3"/>
<path d="M405,415.5 Q404,421 409,424.5 Q416,425.5 420,421 Q421,415 416,412.5 Q409,411.5 405,415.5 Z" stroke-width="3.4" fill="#000"/>
<path d="M402,411 Q412,406 424,404 L444,398 M424,408 L430,417 M431,405 L437,413.5 M438,402 L444,410 M445,399 L450.5,406.5" stroke-width="3.2"/>
<path d="M440,390.5 Q446,393 448,398 Q452,402 457,400.5 Q462,398 460.5,394 M451,393 Q456,391.500 459,395 M463,393.5 L467,400 M455,401 L462,406" stroke-width="3.2"/>
<path d="M420,395 Q430,392 440,391 M430,398 L440,395" stroke-width="2.6"/>
</g>
<path d="M411,418 L414,420.5" style="fill:none;stroke:#fff;stroke-width:1.6;stroke-linecap:round"/>
<path class="l" d="M423.5,455.5 L424.5,458.5 M429.5,453.5 L430.5,456.5"/>
</g>
</svg>
</body></html>
